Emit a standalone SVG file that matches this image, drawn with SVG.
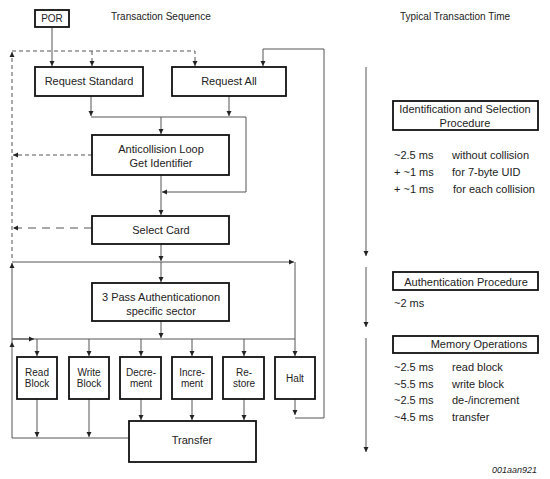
<svg xmlns="http://www.w3.org/2000/svg" width="550" height="479" viewBox="0 0 550 479">
<style>
.box{fill:#fff;stroke:#111;stroke-width:1.8}
.t{font-family:"Liberation Sans",Arial,sans-serif;font-size:11px;fill:#222;text-anchor:middle}
.s{font-size:10px}
.l{text-anchor:start}
.c{fill:none;stroke:#555;stroke-width:1}
.d{stroke-dasharray:4,3}
.dl{stroke-dasharray:8,6}
</style>
<defs>
<marker id="a" markerWidth="6" markerHeight="6" refX="5" refY="3" orient="auto" markerUnits="userSpaceOnUse">
<path d="M0,0.5 L5,3 L0,5.5 Z" fill="#222"/>
</marker>
</defs>
<rect width="550" height="479" fill="#fff"/>
<text class="t s l" x="111" y="20">Transaction Sequence</text>
<text class="t s l" x="400" y="20">Typical Transaction Time</text>

<g id="connectors">
<path class="c" d="M52,27 V66" marker-end="url(#a)"/>
<path class="c d" d="M12,258 V52" marker-end="url(#a)"/>
<path class="c d" d="M12,51 H195 V66" marker-end="url(#a)"/>
<path class="c d" d="M92,51 V66" marker-end="url(#a)"/>
<path class="c d" d="M92,155 H13" marker-end="url(#a)"/>
<path class="c dl" d="M92,228 H13" marker-end="url(#a)"/>
<path class="c" d="M129,438 H12 V342" marker-end="url(#a)"/>
<path class="c" d="M12,342 V263" marker-end="url(#a)"/>
<path class="c" d="M91,96 V116" marker-end="url(#a)"/>
<path class="c" d="M229,96 V116" marker-end="url(#a)"/>
<path class="c" d="M91,117 H246 V192 H162" marker-end="url(#a)"/>
<path class="c" d="M161,117 V134" marker-end="url(#a)"/>
<path class="c" d="M161,175 V215" marker-end="url(#a)"/>
<path class="c" d="M161,244 V261" marker-end="url(#a)"/>
<path class="c" d="M161,262 V282" marker-end="url(#a)"/>
<path class="c" d="M12,262 H294" marker-end="url(#a)"/>
<path class="c" d="M295,262 V356" marker-end="url(#a)"/>
<path class="c" d="M161,321 V338" marker-end="url(#a)"/>
<path class="c" d="M12,339 H295"/>
<path class="c" d="M12,339 H34" marker-end="url(#a)"/>
<path class="c" d="M37,339 V356" marker-end="url(#a)"/>
<path class="c" d="M89,339 V356" marker-end="url(#a)"/>
<path class="c" d="M141,339 V356" marker-end="url(#a)"/>
<path class="c" d="M192,339 V356" marker-end="url(#a)"/>
<path class="c" d="M244,339 V356" marker-end="url(#a)"/>
<path class="c" d="M37,399 V437" marker-end="url(#a)"/>
<path class="c" d="M89,399 V437" marker-end="url(#a)"/>
<path class="c" d="M141,399 V420" marker-end="url(#a)"/>
<path class="c" d="M192,399 V420" marker-end="url(#a)"/>
<path class="c" d="M244,399 V420" marker-end="url(#a)"/>
<path class="c" d="M295,399 V415" marker-end="url(#a)"/>
<path class="c" d="M295,418 H324 V49 H263 V66" marker-end="url(#a)"/>
<path class="c" d="M366,67 V256" marker-end="url(#a)"/>
<path class="c" d="M366,267 V327" marker-end="url(#a)"/>
<path class="c" d="M366,338 V452" marker-end="url(#a)"/>
</g>

<g id="por"><rect class="box" x="35" y="10" width="34" height="17"/><text class="t s" x="52" y="22">POR</text></g>
<g id="request-standard"><rect class="box" x="35" y="67" width="108" height="29"/><text class="t" x="89" y="85">Request Standard</text></g>
<g id="request-all"><rect class="box" x="172" y="67" width="114" height="29"/><text class="t" x="229" y="85">Request All</text></g>
<g id="anticollision"><rect class="box" x="92" y="135" width="137" height="40"/><text class="t" x="161" y="153">Anticollision Loop</text><text class="t" x="161" y="167">Get Identifier</text></g>
<g id="select-card"><rect class="box" x="92" y="216" width="137" height="28"/><text class="t" x="161" y="234">Select Card</text></g>
<g id="authentication"><rect class="box" x="92" y="283" width="137" height="38"/><text class="t" x="161" y="301">3 Pass Authenticationon</text><text class="t" x="161" y="315">specific sector</text></g>
<g id="read-block"><rect class="box" x="17" y="357" width="40" height="42"/><text class="t s" x="37" y="376">Read</text><text class="t s" x="37" y="387">Block</text></g>
<g id="write-block"><rect class="box" x="69" y="357" width="40" height="42"/><text class="t s" x="89" y="376">Write</text><text class="t s" x="89" y="387">Block</text></g>
<g id="decrement"><rect class="box" x="120" y="357" width="41" height="42"/><text class="t s" x="141" y="376">Decre-</text><text class="t s" x="141" y="387">ment</text></g>
<g id="increment"><rect class="box" x="172" y="357" width="40" height="42"/><text class="t s" x="192" y="376">Incre-</text><text class="t s" x="192" y="387">ment</text></g>
<g id="restore"><rect class="box" x="223" y="357" width="41" height="42"/><text class="t s" x="244" y="376">Re-</text><text class="t s" x="244" y="387">store</text></g>
<g id="halt"><rect class="box" x="275" y="357" width="40" height="42"/><text class="t s" x="295" y="382">Halt</text></g>
<g id="transfer"><rect class="box" x="129" y="421" width="127" height="41"/><text class="t" x="192" y="444">Transfer</text></g>

<g id="identification"><rect class="box" x="393" y="101" width="145" height="29"/><text class="t" x="465" y="113">Identification and Selection</text><text class="t" x="465" y="127">Procedure</text></g>
<g id="auth-procedure"><rect class="box" x="393" y="272" width="145" height="18"/><text class="t" x="466" y="286">Authentication Procedure</text></g>
<g id="memory-operations"><rect class="box" x="393" y="336" width="145" height="17"/><text class="t" x="479" y="348">Memory Operations</text></g>

<g class="t l">
<text class="t l" x="394" y="159">~2.5 ms</text><text class="t l" x="452" y="159">without collision</text>
<text class="t l" x="394" y="176">+ ~1 ms</text><text class="t l" x="452" y="176">for 7-byte UID</text>
<text class="t l" x="394" y="193">+ ~1 ms</text><text class="t l" x="453" y="193">for each collision</text>
<text class="t l" x="394" y="307">~2 ms</text>
<text class="t l" x="394" y="371">~2.5 ms</text><text class="t l" x="452" y="371">read block</text>
<text class="t l" x="394" y="388">~5.5 ms</text><text class="t l" x="452" y="388">write block</text>
<text class="t l" x="394" y="404">~2.5 ms</text><text class="t l" x="452" y="404">de-/increment</text>
<text class="t l" x="394" y="421">~4.5 ms</text><text class="t l" x="452" y="421">transfer</text>
</g>
<text class="t" x="537" y="473" style="text-anchor:end;font-size:9px;font-style:italic">001aan921</text>
</svg>
